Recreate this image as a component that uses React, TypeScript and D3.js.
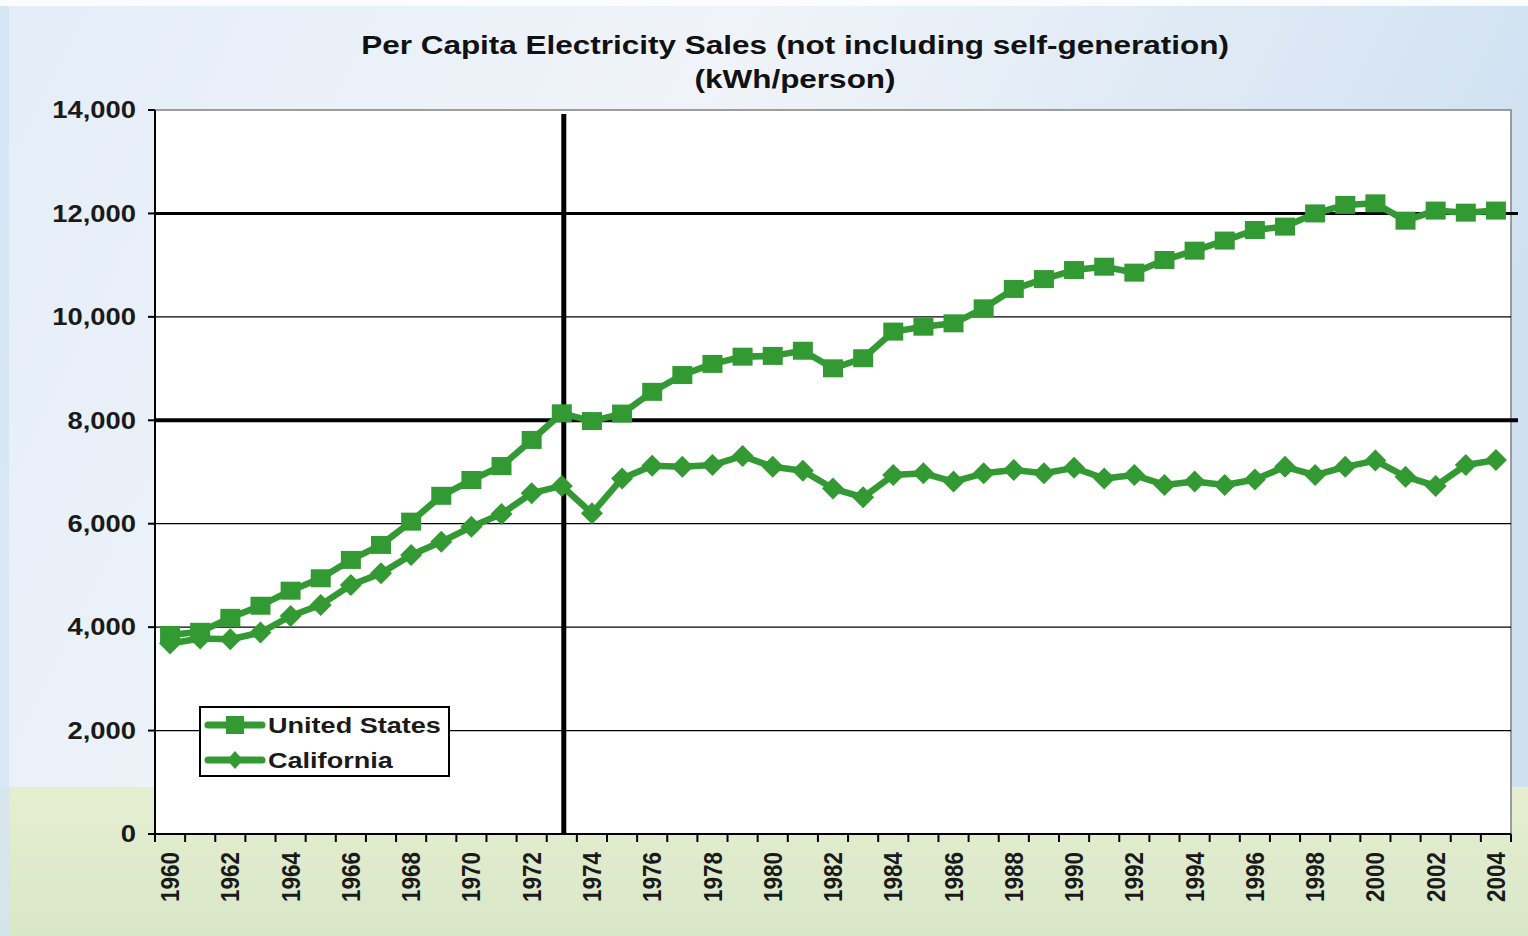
import * as d3 from "d3";
import { useEffect, useRef } from "react";

const years = d3.range(1960, 2005);

// kWh per person
const unitedStates = [
  3850, 3910, 4180, 4415, 4705, 4945, 5300, 5590, 6040, 6540, 6845, 7115, 7620, 8135, 7985,
  8130, 8550, 8875, 9090, 9230, 9245, 9345, 9005, 9200, 9715, 9810, 9875, 10165, 10540, 10730,
  10905, 10970, 10855, 11100, 11280, 11475, 11680, 11745, 12000, 12165, 12195, 11860, 12055, 12015, 12055,
];
const california = [
  3685, 3780, 3765, 3895, 4215, 4430, 4815, 5040, 5395, 5650, 5940, 6190, 6590, 6730, 6200,
  6875, 7120, 7100, 7135, 7310, 7100, 7025, 6680, 6510, 6940, 6975, 6815, 6975, 7040, 6975,
  7080, 6875, 6940, 6750, 6815, 6750, 6855, 7100, 6940, 7100, 7220, 6910, 6730, 7135, 7230,
];
const yTicks = [0, 2000, 4000, 6000, 8000, 10000, 12000, 14000];
const thickLines = [8000, 12000];
const markerYear = 1973;

const W = 1528;
const H = 936;
const GREEN = "#339933";
const FONT = "Liberation Sans, Arial, sans-serif";

const App = () => {
  const svgRef = useRef<SVGSVGElement>(null);

  useEffect(() => {
    const margin = { top: 110, left: 155, right: 17, bottom: 102 };
    const svg = d3.select(svgRef.current).attr("width", W).attr("height", H);
    svg.selectAll("*").remove();

    // background: sky + grass
    const defs = svg.append("defs");
    const sky = defs
      .append("linearGradient")
      .attr("id", "sky")
      .attr("x1", 0)
      .attr("y1", 0)
      .attr("x2", 1)
      .attr("y2", 0.3);
    sky.append("stop").attr("offset", "0%").attr("stop-color", "#e4edf8");
    sky.append("stop").attr("offset", "45%").attr("stop-color", "#f0f4f9");
    sky.append("stop").attr("offset", "100%").attr("stop-color", "#cfe0f1");
    const grass = defs
      .append("linearGradient")
      .attr("id", "grass")
      .attr("x1", 0)
      .attr("y1", 0)
      .attr("x2", 0)
      .attr("y2", 1);
    grass.append("stop").attr("offset", "0%").attr("stop-color", "#e6eed0");
    grass.append("stop").attr("offset", "100%").attr("stop-color", "#d8e7c8");

    svg.append("rect").attr("width", W).attr("height", H).attr("fill", "url(#sky)");
    svg.append("rect").attr("width", W).attr("height", 6).attr("fill", "#fbfcfe");
    svg
      .append("rect")
      .attr("y", 787)
      .attr("width", W)
      .attr("height", H - 787)
      .attr("fill", "url(#grass)");
    svg
      .append("rect")
      .attr("x", 0)
      .attr("y", 6)
      .attr("width", 9)
      .attr("height", H)
      .attr("fill", "#d3e3f4")
      .attr("opacity", 0.8);

    const x = d3
      .scaleBand<number>()
      .domain(years)
      .range([margin.left, W - margin.right]);
    const cx = (yr: number) => (x(yr) as number) + x.bandwidth() / 2;
    const y = d3
      .scaleLinear()
      .domain([0, 14000])
      .range([H - margin.bottom, margin.top]);

    // plot area
    svg
      .append("rect")
      .attr("x", margin.left)
      .attr("y", margin.top)
      .attr("width", W - margin.right - margin.left)
      .attr("height", y(0) - margin.top)
      .attr("fill", "#ffffff")
      .attr("stroke", "#808080")
      .attr("stroke-width", 1.5);

    // gridlines
    svg
      .selectAll(".grid")
      .data(yTicks.filter((d) => d > 0 && d < 14000))
      .join("line")
      .attr("x1", margin.left)
      .attr("x2", (d) => (thickLines.includes(d) ? W - 10 : W - margin.right))
      .attr("y1", (d) => y(d))
      .attr("y2", (d) => y(d))
      .attr("stroke", "#000")
      .attr("stroke-width", (d) => (d === 8000 ? 4 : d === 12000 ? 3 : 1.3));

    // y axis
    svg
      .append("line")
      .attr("x1", margin.left)
      .attr("x2", margin.left)
      .attr("y1", margin.top)
      .attr("y2", y(0))
      .attr("stroke", "#000")
      .attr("stroke-width", 2);
    svg
      .selectAll(".ytick")
      .data(yTicks)
      .join("line")
      .attr("x1", margin.left - 7)
      .attr("x2", margin.left)
      .attr("y1", (d) => y(d))
      .attr("y2", (d) => y(d))
      .attr("stroke", "#000")
      .attr("stroke-width", 2);
    svg
      .selectAll(".ylabel")
      .data(yTicks)
      .join("text")
      .attr("transform", (d) => `translate(136,${y(d)}) scale(1.19,1)`)
      .attr("dy", "0.36em")
      .attr("text-anchor", "end")
      .attr("font-family", FONT)
      .attr("font-weight", "bold")
      .attr("font-size", 23)
      .attr("fill", "#1a1a1a")
      .text((d) => d3.format(",")(d));

    // x axis
    svg
      .append("line")
      .attr("x1", margin.left)
      .attr("x2", W - margin.right)
      .attr("y1", y(0))
      .attr("y2", y(0))
      .attr("stroke", "#000")
      .attr("stroke-width", 2);
    svg
      .selectAll(".xtick")
      .data([...years, 2005])
      .join("line")
      .attr("x1", (d) => (d === 2005 ? W - margin.right : (x(d) as number)))
      .attr("x2", (d) => (d === 2005 ? W - margin.right : (x(d) as number)))
      .attr("y1", y(0))
      .attr("y2", y(0) + 8)
      .attr("stroke", "#000")
      .attr("stroke-width", 2);
    svg
      .selectAll(".xlabel")
      .data(years.filter((d) => d % 2 === 0))
      .join("text")
      .attr("transform", (d) => `translate(${cx(d)},${y(0) + 18}) scale(1.12,1) rotate(-90)`)
      .attr("dy", "0.36em")
      .attr("text-anchor", "end")
      .attr("font-family", FONT)
      .attr("font-weight", "bold")
      .attr("font-size", 22.5)
      .attr("fill", "#1a1a1a")
      .text((d) => d);

    // 1973 marker line
    svg
      .append("line")
      .attr("x1", cx(markerYear) + 2)
      .attr("x2", cx(markerYear) + 2)
      .attr("y1", margin.top + 4)
      .attr("y2", y(0))
      .attr("stroke", "#000")
      .attr("stroke-width", 5);

    const line = d3
      .line<number>()
      .x((_, i) => cx(years[i]))
      .y((d) => y(d));

    const series = [
      { name: "United States", values: unitedStates, shape: "square" },
      { name: "California", values: california, shape: "diamond" },
    ];

    const marker = (shape: string, px: number, py: number) =>
      shape === "square"
        ? `M${px - 10},${py - 9}h20v18h-20Z`
        : `M${px},${py - 11}L${px + 11},${py}L${px},${py + 11}L${px - 11},${py}Z`;

    series.forEach((s) => {
      svg
        .append("path")
        .attr("d", line(s.values))
        .attr("fill", "none")
        .attr("stroke", GREEN)
        .attr("stroke-width", 6.5)
        .attr("stroke-linejoin", "round");
      svg
        .selectAll(null)
        .data(s.values)
        .join("path")
        .attr("d", (d, i) => marker(s.shape, cx(years[i]), y(d)))
        .attr("fill", GREEN);
    });

    // legend
    const lg = svg.append("g");
    lg.append("rect")
      .attr("x", 200)
      .attr("y", 707)
      .attr("width", 249)
      .attr("height", 69)
      .attr("fill", "#fff")
      .attr("stroke", "#000")
      .attr("stroke-width", 2);
    series.forEach((s, i) => {
      const ly = 725 + i * 35;
      lg.append("line")
        .attr("x1", 208)
        .attr("x2", 262)
        .attr("y1", ly)
        .attr("y2", ly)
        .attr("stroke", GREEN)
        .attr("stroke-width", 7)
        .attr("stroke-linecap", "round");
      lg.append("path")
        .attr(
          "d",
          s.shape === "square"
            ? `M${235 - 9},${ly - 9}h18v18h-18Z`
            : `M235,${ly - 9}L${235 + 8},${ly}L235,${ly + 9}L${235 - 8},${ly}Z`
        )
        .attr("fill", GREEN);
      lg.append("text")
        .attr("transform", `translate(268,${ly}) scale(1.23,1)`)
        .attr("dy", "0.36em")
        .attr("font-family", FONT)
        .attr("font-weight", "bold")
        .attr("font-size", 22)
        .attr("fill", "#1a1a1a")
        .text(s.name);
    });

    // title
    const title = svg
      .append("g")
      .attr("transform", "translate(795,0) scale(1.26,1)")
      .append("text")
      .attr("text-anchor", "middle")
      .attr("font-family", FONT)
      .attr("font-weight", "bold")
      .attr("font-size", 25)
      .attr("fill", "#111");
    title.append("tspan").attr("x", 0).attr("y", 54).text("Per Capita Electricity Sales (not including self-generation)");
    title.append("tspan").attr("x", 0).attr("y", 88).text("(kWh/person)");
  }, []);

  return <svg ref={svgRef} style={{ position: "fixed", left: 0, top: 0, display: "block" }}></svg>;
};

export default App;
